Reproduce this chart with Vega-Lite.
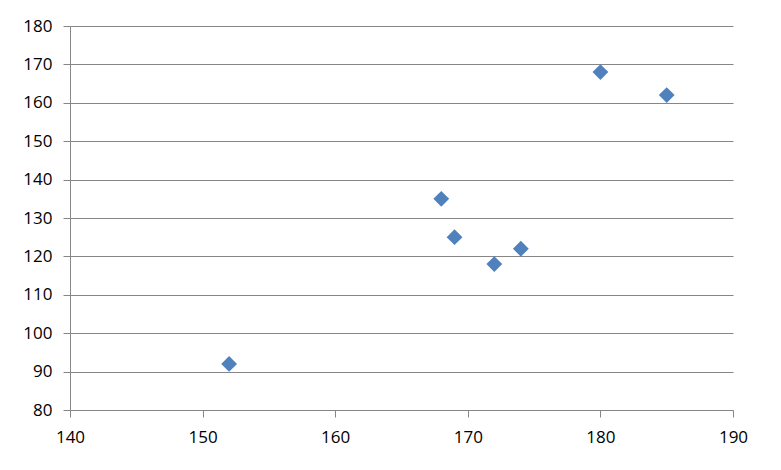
{
  "$schema": "https://vega.github.io/schema/vega-lite/v6.json",
  "description": "Scatter of paired measurements",
  "autosize": {"type": "none"},
  "padding": {"left": 70, "top": 26, "right": 48, "bottom": 60},
  "width": 663,
  "height": 384,
  "background": "white",
  "data": {
    "values": [
      {"x": 152, "y": 92},
      {"x": 168, "y": 135},
      {"x": 169, "y": 125},
      {"x": 172, "y": 118},
      {"x": 174, "y": 122},
      {"x": 180, "y": 168},
      {"x": 185, "y": 162}
    ]
  },
  "mark": {"type": "point", "shape": "diamond", "filled": true, "size": 250, "color": "#4F81BD", "opacity": 1},
  "encoding": {
    "x": {
      "field": "x",
      "type": "quantitative",
      "scale": {"domain": [140, 190], "nice": false, "zero": false},
      "axis": {"title": null, "values": [140, 150, 160, 170, 180, 190], "grid": false, "tickSize": 7, "labelPadding": 12}
    },
    "y": {
      "field": "y",
      "type": "quantitative",
      "scale": {"domain": [80, 180], "nice": false, "zero": false},
      "axis": {"title": null, "values": [80, 90, 100, 110, 120, 130, 140, 150, 160, 170, 180], "grid": true, "tickSize": 7, "labelPadding": 11}
    }
  },
  "config": {
    "view": {"stroke": null},
    "axis": {
      "domainColor": "#868686",
      "tickColor": "#868686",
      "gridColor": "#868686",
      "gridOpacity": 1,
      "domainWidth": 1,
      "labelFont": "Open Sans",
      "labelFontSize": 17,
      "labelColor": "#000000",
      "labelFlush": false
    }
  }
}
